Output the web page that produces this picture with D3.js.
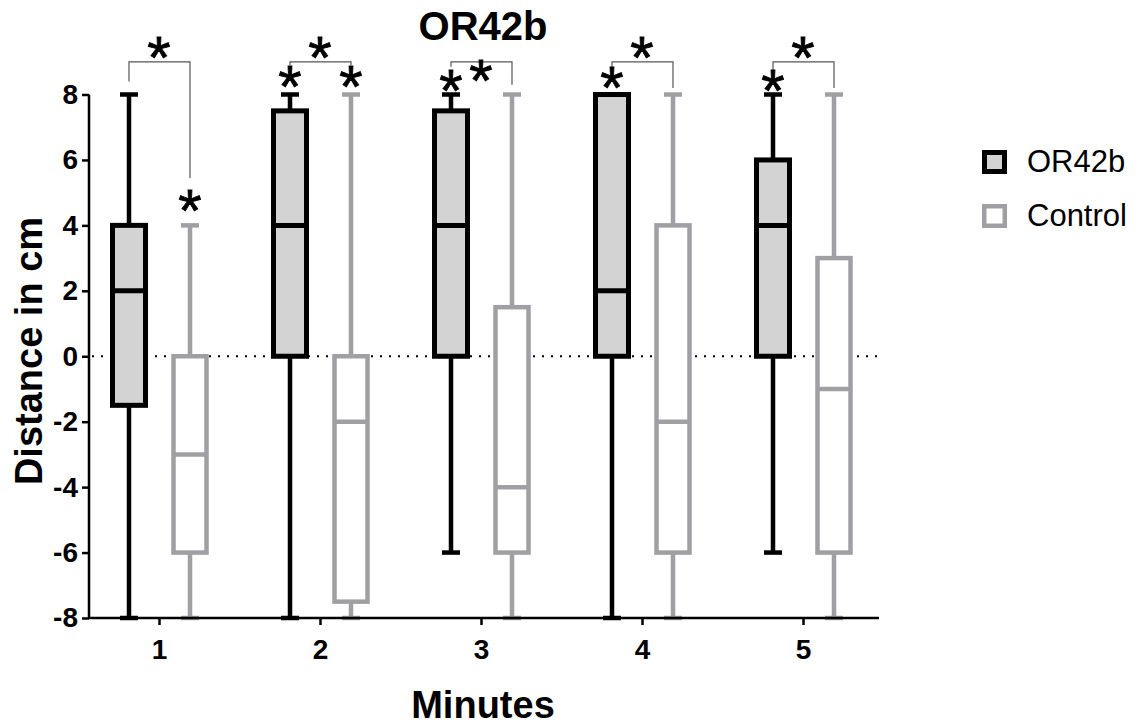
<!DOCTYPE html>
<html>
<head>
<meta charset="utf-8">
<script src="https://cdn.jsdelivr.net/npm/d3@7"></script>
<style>
  body { margin: 0; background: #fff; }
  svg { display: block; font-family: Arial, "Liberation Sans", Helvetica, sans-serif; }
</style>
</head>
<body>
<div id="chart"></div>
<script>
// box stats per minute: [min, q1, median, q3, max]
var minutes = [1, 2, 3, 4, 5];
var groups = ["OR42b", "Control"];
var or42bStats = [
  [-8, -1.5, 2, 4, 8],
  [-8, 0, 4, 7.5, 8],
  [-6, 0, 4, 7.5, 8],
  [-8, 0, 2, 8, 8],
  [-6, 0, 4, 6, 8]
];
var controlStats = [
  [-8, -6, -3, 0, 4],
  [-8, -7.5, -2, 0, 8],
  [-8, -6, -4, 1.5, 8],
  [-8, -6, -2, 4, 8],
  [-8, -6, -1, 3, 8]
];
var yTicks = [-8, -6, -4, -2, 0, 2, 4, 6, 8];

// significance brackets: top level and where each leg stops
var bracketTop = 9.0;
var bracketLeft = [8.4, 8.9, 8.85, 8.75, 8.75];
var bracketRight = [5.45, 8.9, 8.3, 8.2, 8.2];
// asterisks: minute, position ("OR42b", "Control" or "mid"), value
var stars = [
  [1, "mid", 9.3], [1, "Control", 4.62],
  [2, "mid", 9.3], [2, "OR42b", 8.44], [2, "Control", 8.44],
  [3, "mid", 8.6], [3, "OR42b", 8.29],
  [4, "mid", 9.3], [4, "OR42b", 8.38],
  [5, "mid", 9.3], [5, "OR42b", 8.29]
];

var width = 1139, height = 726;
var svg = d3.select("#chart").append("svg")
    .attr("width", width)
    .attr("height", height);

var x = d3.scaleLinear().domain([1, 5]).range([159, 803]);
var y = d3.scaleLinear().domain([-8, 8]).range([618, 94.5]);
var offset = {"OR42b": -30, "Control": 31, "mid": 0};
var style = {
  "OR42b": {stroke: "#000", fill: "#d3d3d3", sw: 5},
  "Control": {stroke: "#a0a0a4", fill: "#fff", sw: 4.5}
};
var boxW = 33, capW = 18;

// zero line
svg.append("line")
    .attr("x1", 92).attr("x2", 878)
    .attr("y1", y(0)).attr("y2", y(0))
    .attr("stroke", "#000")
    .attr("stroke-width", 2)
    .attr("stroke-dasharray", "2,7");

function drawBoxes(stats, g) {
  var st = style[g];
  var sel = svg.append("g").selectAll("g")
      .data(stats)
    .enter().append("g")
      .attr("transform", function(d, i) { return "translate(" + (x(minutes[i]) + offset[g]) + ",0)"; });

  // whisker
  sel.append("line")
      .attr("x1", 0).attr("x2", 0)
      .attr("y1", function(d) { return y(d[0]); })
      .attr("y2", function(d) { return y(d[4]); })
      .attr("stroke", st.stroke).attr("stroke-width", 4.5);
  // caps
  sel.selectAll(".cap")
      .data(function(d) { return [d[0], d[4]]; })
    .enter().append("line")
      .attr("x1", -capW / 2).attr("x2", capW / 2)
      .attr("y1", function(v) { return y(v); })
      .attr("y2", function(v) { return y(v); })
      .attr("stroke", st.stroke).attr("stroke-width", 4.5);
  // box
  sel.append("rect")
      .attr("x", -boxW / 2)
      .attr("width", boxW)
      .attr("y", function(d) { return y(d[3]); })
      .attr("height", function(d) { return y(d[1]) - y(d[3]); })
      .attr("fill", st.fill)
      .attr("stroke", st.stroke).attr("stroke-width", st.sw);
  // median
  sel.append("line")
      .attr("x1", -boxW / 2).attr("x2", boxW / 2)
      .attr("y1", function(d) { return y(d[2]); })
      .attr("y2", function(d) { return y(d[2]); })
      .attr("stroke", st.stroke).attr("stroke-width", st.sw);
}
drawBoxes(or42bStats, "OR42b");
drawBoxes(controlStats, "Control");

// axes
var yAxis = svg.append("g")
    .attr("transform", "translate(89,0)")
    .call(d3.axisLeft(y).tickValues(yTicks).tickFormat(function(d) { return String(d); })
      .tickSize(7).tickPadding(4).tickSizeOuter(0));
yAxis.select(".domain").attr("stroke-width", 2.5).attr("d", "M0," + (y(-8) + 1) + "V" + (y(8)));
yAxis.selectAll(".tick line").attr("stroke-width", 2.5);
yAxis.selectAll(".tick text")
    .attr("font-size", 28).attr("font-weight", "bold")
    .attr("font-family", "Arial, 'Liberation Sans', sans-serif")
    .attr("fill", "#000");

var xAxis = svg.append("g")
    .attr("transform", "translate(0," + y(-8) + ")")
    .call(d3.axisBottom(x).tickValues(minutes).tickFormat(d3.format("d")).tickSize(7).tickPadding(14).tickSizeOuter(0));
xAxis.select(".domain").attr("stroke-width", 2.5).attr("d", "M88,0H879");
xAxis.selectAll(".tick line").attr("stroke-width", 2.5);
xAxis.selectAll(".tick text")
    .attr("font-size", 28).attr("font-weight", "bold")
    .attr("font-family", "Arial, 'Liberation Sans', sans-serif")
    .attr("fill", "#000");

// brackets
var bracket = svg.append("g");
minutes.forEach(function(m, i) {
  var xl = x(m) + offset["OR42b"], xr = x(m) + offset["Control"];
  bracket.append("path")
      .attr("d", "M" + xl + "," + y(bracketLeft[i]) + "V" + y(bracketTop) + "H" + xr + "V" + y(bracketRight[i]))
      .attr("fill", "none")
      .attr("stroke", "#555")
      .attr("stroke-width", 1.2);
});

// asterisks, centred on their point
var starSize = 60;
svg.append("g").selectAll("text")
    .data(stars)
  .enter().append("text")
    .attr("x", function(d) { return x(d[0]) + offset[d[1]]; })
    .attr("y", function(d) { return y(d[2]) + 0.44 * starSize; })
    .attr("text-anchor", "middle")
    .attr("font-size", starSize)
    .attr("fill", "#000")
    .attr("stroke", "#000")
    .attr("stroke-width", 0.8)
    .text("*");

// title and axis labels
svg.append("text")
    .attr("x", 483).attr("y", 40)
    .attr("text-anchor", "middle")
    .attr("font-size", 40).attr("font-weight", "bold")
    .text("OR42b");

svg.append("text")
    .attr("x", 483).attr("y", 718)
    .attr("text-anchor", "middle")
    .attr("font-size", 38).attr("font-weight", "bold")
    .text("Minutes");

svg.append("text")
    .attr("transform", "translate(42,351) rotate(-90)")
    .attr("text-anchor", "middle")
    .attr("font-size", 38).attr("font-weight", "bold")
    .text("Distance in cm");

// legend
var legend = svg.append("g").selectAll("g")
    .data(groups)
  .enter().append("g")
    .attr("transform", function(d, i) { return "translate(982," + (150 + i * 54) + ")"; });
legend.append("rect")
    .attr("x", function(d) { return style[d].sw / 2; })
    .attr("y", function(d) { return style[d].sw / 2; })
    .attr("width", function(d) { return 25 - style[d].sw; })
    .attr("height", function(d) { return 24 - style[d].sw; })
    .attr("fill", function(d) { return style[d].fill; })
    .attr("stroke", function(d) { return style[d].stroke; })
    .attr("stroke-width", function(d) { return style[d].sw; });
legend.append("text")
    .attr("x", 45).attr("y", 22)
    .attr("font-size", 31)
    .attr("fill", "#000")
    .text(function(d) { return d; });
</script>
</body>
</html>
